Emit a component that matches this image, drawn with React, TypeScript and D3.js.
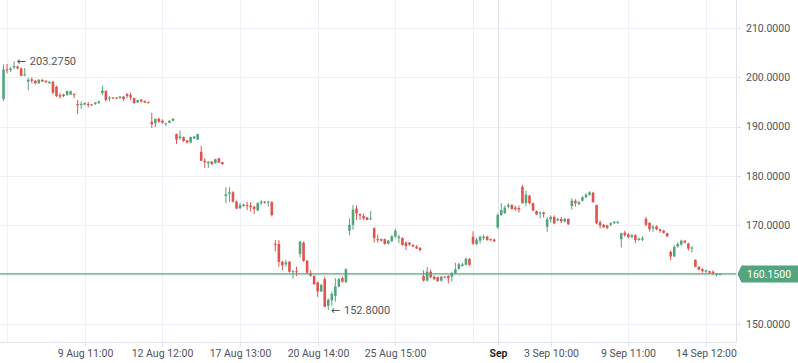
import React from 'react';
import { scaleLinear } from 'd3';

// trading days shown on the chart, 7 hourly bars per session
const days = [
  '4 Aug', '5 Aug', '6 Aug', '9 Aug', '10 Aug', '11 Aug', '12 Aug', '13 Aug', '16 Aug', '17 Aug',
  '18 Aug', '19 Aug', '20 Aug', '23 Aug', '24 Aug', '25 Aug', '26 Aug', '27 Aug', '30 Aug', '31 Aug',
  '1 Sep', '2 Sep', '3 Sep', '7 Sep', '8 Sep', '9 Sep', '10 Sep', '13 Sep', '14 Sep', '15 Sep',
];
const hours = ['09:00', '10:00', '11:00', '12:00', '13:00', '14:00', '15:00'];

const open = [
  195.6, 201.6, 201.5, 202.0, 202.2, 201.8, 200.4, 199.1, 199.6, 199.3, 198.8, 199.5, 199.3, 198.8,
  199.1, 198.1, 196.4, 196.5, 196.4, 196.5, 196.6, 194.6, 194.4, 194.5, 194.6, 194.5, 194.6, 194.8,
  196.8, 197.2, 195.7, 195.9, 195.9, 195.8, 196.1, 196.6, 196.4, 195.8, 194.9, 195.5, 195.2, 195.0,
  191.0, 190.7, 191.6, 191.2, 190.5, 190.8, 191.2, 188.5, 187.7, 187.9, 187.2, 186.8, 187.6, 187.4,
  184.9, 183.1, 182.6, 182.9, 182.6, 183.6, 182.8, 175.95, 176.4, 176.7, 174.8, 173.5, 173.9, 174.1,
  174.0, 173.8, 173.0, 174.5, 174.8, 174.6, 174.7, 166.2, 166.2, 162.6, 162.1, 162.6, 160.5, 160.7,
  164.2, 166.5, 162.8, 160.3, 159.7, 158.4, 156.6, 159.1, 153.7, 154.8, 155.7, 157.6, 159.3, 158.5,
  168.9, 170.1, 173.4, 172.3, 171.9, 171.6, 171.2, 169.4, 167.2, 167.2, 167.2, 166.3, 166.8, 167.7,
  167.4, 167.4, 166.5, 166.5, 166.0, 165.7, 165.4, 159.7, 158.8, 160.6, 159.6, 159.5, 158.8, 159.6,
  159.7, 159.6, 160.3, 161.2, 161.8, 162.0, 163.2, 167.7, 166.2, 166.9, 167.4, 167.7, 167.2, 167.1,
  169.6, 172.1, 172.5, 173.8, 174.1, 173.6, 173.5, 177.8, 174.5, 176.0, 174.5, 172.9, 172.4, 172.6,
  169.7, 171.2, 171.7, 171.0, 171.3, 170.8, 171.3, 173.9, 175.0, 174.3, 175.0, 175.7, 176.2, 176.6,
  174.1, 170.6, 170.1, 170.0, 170.1, 170.4, 170.5, 167.2, 168.5, 168.2, 167.6, 168.0, 167.0, 167.1,
  171.3, 170.5, 169.4, 169.8, 169.2, 168.9, 168.4, 164.6, 163.7, 165.7, 166.1, 166.9, 166.3, 165.3,
  163.0, 161.6, 161.1, 160.6, 160.7, 160.6, 160.0, 160.1,
];
const high = [
  202.6, 202.7, 202.1, 203.275, 202.4, 202.0, 201.9, 199.9, 200.0, 199.5, 199.6, 199.6, 199.4, 199.2,
  199.2, 198.3, 196.8, 196.7, 197.3, 197.3, 196.8, 195.4, 195.1, 194.9, 195.0, 194.6, 195.0, 195.3,
  198.3, 197.4, 196.2, 196.0, 196.0, 196.2, 196.2, 196.8, 196.9, 195.9, 195.5, 195.6, 195.3, 195.1,
  192.8, 191.6, 191.8, 191.5, 190.7, 191.3, 191.7, 188.6, 189.2, 188.0, 187.3, 188.0, 188.1, 188.6,
  186.1, 183.6, 183.0, 183.0, 183.5, 183.7, 182.9, 177.7, 177.7, 176.9, 175.0, 174.5, 174.4, 174.8,
  174.7, 173.9, 174.7, 175.1, 174.9, 175.0, 174.9, 167.0, 167.0, 162.8, 163.0, 162.8, 161.0, 161.6,
  166.9, 166.7, 163.0, 160.9, 159.9, 158.6, 158.2, 159.6, 155.2, 156.6, 159.3, 159.3, 159.6, 161.3,
  171.4, 174.1, 174.1, 172.4, 172.4, 171.7, 172.9, 169.6, 168.1, 167.3, 167.3, 167.0, 168.0, 169.3,
  168.1, 167.6, 166.7, 166.6, 166.2, 166.0, 165.6, 160.9, 161.6, 161.0, 159.8, 159.6, 159.7, 159.7,
  159.9, 160.6, 162.4, 162.4, 162.4, 163.5, 163.4, 168.8, 167.5, 167.9, 168.1, 167.9, 167.3, 167.3,
  172.4, 174.5, 174.0, 174.5, 174.3, 174.0, 174.0, 178.2, 177.0, 176.2, 174.6, 173.0, 172.8, 172.8,
  171.7, 172.0, 172.0, 171.5, 171.7, 171.5, 171.4, 175.5, 175.3, 174.9, 175.9, 176.5, 176.9, 176.8,
  174.2, 171.0, 170.3, 170.1, 170.7, 170.9, 170.9, 168.5, 168.9, 168.4, 168.2, 168.2, 167.5, 167.8,
  171.7, 170.6, 170.1, 170.0, 169.3, 169.1, 168.5, 164.9, 166.0, 166.6, 167.1, 167.0, 166.5, 165.7,
  163.1, 161.7, 161.3, 161.0, 160.8, 160.9, 160.3, 160.2,
];
const low = [
  195.2, 200.8, 201.1, 201.7, 201.6, 200.2, 200.2, 197.4, 198.8, 198.6, 198.7, 199.0, 198.9, 198.7,
  196.6, 196.0, 195.7, 196.0, 196.3, 196.4, 195.8, 192.6, 193.6, 194.3, 193.9, 194.3, 194.4, 194.6,
  196.4, 195.1, 195.1, 195.6, 195.6, 195.7, 195.2, 195.8, 195.4, 194.6, 194.8, 194.9, 194.8, 194.7,
  189.7, 189.9, 190.8, 190.6, 190.1, 190.7, 191.1, 186.5, 187.3, 186.9, 186.6, 186.6, 187.5, 187.3,
  183.0, 181.6, 181.6, 182.3, 182.5, 182.6, 182.3, 174.5, 174.8, 174.6, 173.3, 173.3, 173.8, 173.1,
  172.8, 172.3, 172.9, 174.1, 174.4, 173.8, 171.8, 164.7, 161.6, 160.9, 161.6, 160.4, 159.2, 159.7,
  163.5, 162.6, 160.2, 159.6, 157.9, 155.5, 156.5, 153.4, 152.8, 153.7, 154.5, 157.4, 158.4, 158.3,
  168.0, 169.1, 171.1, 171.1, 171.1, 171.0, 171.1, 166.5, 166.5, 166.7, 166.1, 166.1, 166.6, 167.5,
  166.4, 165.9, 165.0, 165.8, 165.6, 165.2, 164.7, 158.6, 158.6, 159.3, 158.9, 158.5, 158.6, 159.3,
  158.2, 158.6, 160.1, 161.0, 161.6, 161.9, 161.8, 166.0, 166.0, 166.3, 167.0, 166.9, 166.8, 166.6,
  169.3, 171.9, 172.3, 173.4, 173.2, 173.0, 172.6, 174.4, 173.9, 174.3, 172.9, 172.1, 171.4, 171.6,
  168.7, 170.6, 170.2, 170.8, 170.5, 170.6, 170.1, 173.2, 173.8, 174.1, 174.8, 175.5, 176.0, 174.6,
  170.2, 169.4, 169.5, 169.2, 169.8, 170.3, 170.3, 165.5, 167.7, 167.4, 167.4, 166.4, 166.9, 166.8,
  169.8, 168.8, 168.7, 169.0, 168.5, 168.3, 167.6, 162.9, 163.6, 165.5, 165.9, 166.4, 164.9, 164.5,
  161.5, 160.9, 160.4, 160.3, 160.2, 159.9, 159.6, 160.0,
];
const close = [
  201.6, 201.4, 201.8, 202.3, 201.8, 200.3, 200.6, 199.5, 199.3, 198.8, 199.5, 199.2, 199.0, 199.1,
  196.9, 196.2, 196.1, 196.2, 197.2, 197.2, 196.4, 194.4, 194.6, 194.8, 194.4, 194.4, 194.9, 195.1,
  197.3, 195.4, 195.9, 195.7, 195.7, 196.1, 195.6, 196.2, 195.9, 194.8, 195.4, 195.1, 194.9, 194.8,
  190.5, 191.6, 191.0, 190.8, 190.7, 191.2, 191.6, 187.4, 188.0, 187.1, 186.8, 187.9, 188.0, 188.5,
  183.1, 182.8, 182.9, 182.4, 183.4, 182.7, 182.4, 176.3, 176.7, 174.8, 173.4, 174.1, 174.2, 173.9,
  173.7, 173.3, 174.5, 174.8, 174.6, 174.8, 172.1, 166.0, 162.6, 161.9, 162.5, 160.6, 160.7, 160.5,
  166.7, 162.8, 160.4, 159.8, 158.1, 156.6, 157.9, 153.5, 154.9, 156.1, 157.6, 159.1, 158.6, 161.1,
  170.1, 173.2, 172.4, 172.0, 171.4, 171.1, 171.4, 167.4, 167.0, 166.9, 166.2, 166.9, 167.8, 168.9,
  167.7, 166.0, 165.8, 166.1, 165.7, 165.3, 165.0, 158.8, 160.6, 159.5, 159.1, 158.7, 159.6, 159.4,
  159.3, 160.3, 161.1, 162.1, 162.1, 163.2, 162.0, 166.3, 167.1, 167.7, 167.7, 167.0, 167.0, 166.8,
  172.1, 173.1, 173.6, 174.1, 173.3, 173.3, 173.2, 174.5, 176.2, 174.5, 173.0, 172.2, 172.6, 172.3,
  171.2, 171.7, 170.4, 171.3, 170.8, 171.3, 170.2, 175.0, 174.5, 174.7, 175.7, 176.2, 176.7, 174.7,
  170.4, 170.0, 169.6, 169.5, 170.4, 170.7, 170.7, 168.4, 168.0, 167.6, 168.0, 167.0, 167.3, 167.4,
  170.1, 169.2, 169.7, 169.2, 168.9, 168.5, 167.8, 163.7, 165.6, 166.2, 166.9, 166.5, 165.3, 165.5,
  161.6, 161.0, 160.7, 160.9, 160.4, 160.3, 160.2, 160.15,
];

const yTicks = [150, 160, 170, 180, 190, 200, 210];
const gridOnlyTicks = ['4 Aug 10:00', '31 Aug 09:00'];
const tickKeys = ['9 Aug 11:00', '12 Aug 12:00', '17 Aug 13:00', '20 Aug 14:00', '25 Aug 15:00', '1 Sep 09:00', '3 Sep 10:00', '9 Sep 11:00', '14 Sep 12:00'];
const tickLabels = ['9 Aug 11:00', '12 Aug 12:00', '17 Aug 13:00', '20 Aug 14:00', '25 Aug 15:00', 'Sep', '3 Sep 10:00', '9 Sep 11:00', '14 Sep 12:00'];

const lastPrice = 160.15;
const maxPrice = 203.275;
const minPrice = 152.8;

export default function App() {
  const W = 798, H = 363;
  const plotRight = 736.5, plotBottom = 342.5;
  const up = '#53a57e', down = '#e0534f';
  const font = 'Roboto, sans-serif';

  // one category per bar
  const cats: string[] = [];
  days.forEach(d => hours.forEach(h => cats.push(`${d} ${h}`)));
  const bars = open.map((o, i) => ({ cat: cats[i], i, o, h: high[i], l: low[i], c: close[i] }));

  const x = scaleLinear().domain([-1, 207.5]).range([0, 736]);
  const y = scaleLinear().domain([150, 210]).range([324, 28]);
  const bw = 2.6;

  const hiBar = bars.reduce((a, b) => (b.h > a.h ? b : a));
  const loBar = bars.reduce((a, b) => (b.l < a.l ? b : a));

  const idx = (k: string) => cats.indexOf(k);

  // arrow + value label next to the extreme bars
  const note = (i: number, v: number, k: string) => (
    <text key={k} x={x(i) + 2.5} y={y(v)} dy="0.35em" fontSize={11} fill="#555">
      <tspan fontFamily="'DejaVu Sans', sans-serif" fontSize={11}>{'\u2190'}</tspan>
      <tspan dx={4}>{v.toFixed(4)}</tspan>
    </text>
  );

  return (
    <svg width={W} height={H} style={{ position: 'absolute', left: 0, top: 0, background: '#fff' }} fontFamily={font}>
      {/* grid */}
      {yTicks.map(t => (
        <line key={'gy' + t} x1={0} x2={plotRight} y1={Math.round(y(t)) + 0.5} y2={Math.round(y(t)) + 0.5} stroke="#eef1f7" />
      ))}
      {gridOnlyTicks.concat(tickKeys).map(k => (
        <line key={'gx' + k} x1={Math.round(x(idx(k))) + 0.5} x2={Math.round(x(idx(k))) + 0.5} y1={0} y2={plotBottom}
          stroke={k === '1 Sep 09:00' ? '#dfe2ea' : '#eef1f7'} />
      ))}

      {/* candles */}
      {bars.map(b => {
        const cx = x(b.i);
        const col = b.c >= b.o ? up : down;
        const top = y(Math.max(b.o, b.c));
        const bh = Math.max(1, y(Math.min(b.o, b.c)) - top);
        return (
          <g key={b.cat}>
            <line x1={cx} x2={cx} y1={y(b.h)} y2={y(b.l)} stroke={col} strokeWidth={1} />
            <rect x={cx - bw / 2} y={top} width={bw} height={bh} fill={col} />
          </g>
        );
      })}

      {/* last price line */}
      <line x1={0} x2={plotRight} y1={y(lastPrice)} y2={y(lastPrice)} stroke={up} strokeWidth={1.2} />

      {/* hi / lo annotations */}
      {note(hiBar.i, maxPrice, 'hi')}
      {note(loBar.i, minPrice, 'lo')}

      {/* axes */}
      <line x1={plotRight} x2={plotRight} y1={0} y2={plotBottom} stroke="#e0e3eb" />
      <line x1={0} x2={plotRight} y1={plotBottom} y2={plotBottom} stroke="#e0e3eb" />
      {yTicks.map(t => (
        <g key={'ty' + t}>
          <line x1={plotRight} x2={plotRight + 4} y1={Math.round(y(t)) + 0.5} y2={Math.round(y(t)) + 0.5} stroke="#e0e3eb" />
          <text x={746} y={y(t)} dy="0.35em" fontSize={10.5} fill="#50535e">{t.toFixed(4)}</text>
        </g>
      ))}
      {tickKeys.map((k, j) => {
        const tx = Math.round(x(idx(k))) + 0.5;
        return (
          <g key={'tx' + k}>
            <line x1={tx} x2={tx} y1={plotBottom} y2={plotBottom + 4} stroke="#e0e3eb" />
            <text x={tx} y={353} dy="0.35em" textAnchor="middle" fontSize={10.5}
              fill={tickLabels[j] === 'Sep' ? '#131722' : '#50535e'} fontWeight={tickLabels[j] === 'Sep' ? 600 : 400}>
              {tickLabels[j]}
            </text>
          </g>
        );
      })}

      {/* last price label */}
      <path d={`M${plotRight + 1},${y(lastPrice)} L${plotRight + 5},${y(lastPrice) - 8.5} H${W} V${y(lastPrice) + 8.5} H${plotRight + 5} Z`} fill={up} />
      <text x={747} y={y(lastPrice)} dy="0.35em" fontSize={10.5} fill="#fff">{lastPrice.toFixed(4)}</text>
    </svg>
  );
}
